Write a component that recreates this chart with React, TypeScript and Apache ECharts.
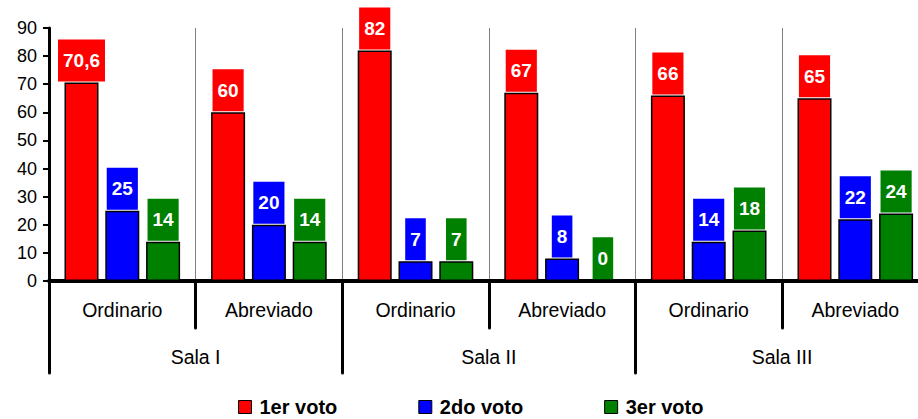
import React, { useEffect, useRef } from "react";
import * as echarts from "echarts";

const tipos = ["Ordinario", "Abreviado", "Ordinario", "Abreviado", "Ordinario", "Abreviado"];
const salas = ["Sala I", "Sala II", "Sala III"];
const primerVoto = [70.6, 60, 82, 67, 66, 65];
const segundoVoto = [25, 20, 7, 8, 14, 22];
const tercerVoto = [14, 14, 7, 0, 18, 24];
const seriesNames = ["1er voto", "2do voto", "3er voto"];
const seriesColors = ["#FF0000", "#0000FF", "#008000"];
const yTicks = { min: 0, max: 90, interval: 10 };

const FONT = "Arial, 'Liberation Sans', Helvetica, sans-serif";

export default function App() {
  const ref = useRef<HTMLDivElement>(null);
  useEffect(() => {
    if (!ref.current) return;
    const chart = echarts.init(ref.current, null, { renderer: "svg" });
    const values = [primerVoto, segundoVoto, tercerVoto];
    const option: any = {
      animation: false,
      backgroundColor: "#fff",
      textStyle: { fontFamily: FONT },
      grid: {
        left: 49,
        top: 28,
        width: 879.6,
        height: 253,
        containLabel: false,
        outerBoundsMode: "none",
      },
      legend: {
        left: 238,
        top: 397,
        padding: 0,
        icon: "rect",
        itemWidth: 13,
        itemHeight: 13,
        itemGap: 81,
        data: seriesNames,
        itemStyle: { borderColor: "#000", borderWidth: 1 },
        textStyle: {
          fontFamily: FONT,
          fontSize: 20,
          lineHeight: 18,
          fontWeight: "bold",
          color: "#000",
          padding: [0, 0, 0, 3],
        },
      },
      xAxis: [
        {
          type: "category",
          data: tipos,
          position: "bottom",
          boundaryGap: true,
          axisLine: { show: true, lineStyle: { color: "#000", width: 4 } },
          axisTick: { show: true, length: 47, lineStyle: { color: "#000", width: 3, cap: "round" } },
          axisLabel: { interval: 0, margin: 19, fontSize: 19.5, color: "#000", fontFamily: FONT },
          splitLine: { show: true, lineStyle: { color: "#808080", width: 1 } },
        },
        {
          type: "category",
          data: salas,
          position: "bottom",
          boundaryGap: true,
          axisLine: { show: false },
          axisTick: { show: true, length: 92, lineStyle: { color: "#000", width: 3, cap: "round" } },
          axisLabel: { interval: 0, margin: 66, fontSize: 19.5, color: "#000", fontFamily: FONT },
          splitLine: { show: false },
        },
      ],
      yAxis: {
        type: "value",
        min: yTicks.min,
        max: yTicks.max,
        interval: yTicks.interval,
        axisLine: { show: true, lineStyle: { color: "#000", width: 3 } },
        axisTick: { show: true, length: 6, lineStyle: { color: "#000", width: 2 } },
        axisLabel: { fontSize: 18, color: "#000", margin: 12, fontFamily: FONT },
        splitLine: { show: false },
      },
      series: seriesNames.map((name, i) => ({
        name,
        type: "bar",
        xAxisIndex: 0,
        data: values[i],
        barWidth: 34,
        barGap: "20%",
        itemStyle: { color: seriesColors[i], borderColor: "#000", borderWidth: 1.5 },
        label: {
          show: true,
          position: "top",
          distance: 1,
          formatter: (p: any) => String(p.value).replace(".", ","),
          color: "#fff",
          fontWeight: "bold",
          fontSize: 19,
          fontFamily: FONT,
          lineHeight: 20,
          backgroundColor: seriesColors[i],
          padding: [11, 5, 11, 5],
        },
      })),
    };
    chart.setOption(option);
    return () => chart.dispose();
  }, []);
  return (
    <div
      ref={ref}
      style={{ position: "fixed", left: 0, top: 0, width: 918, height: 419 }}
    />
  );
}
